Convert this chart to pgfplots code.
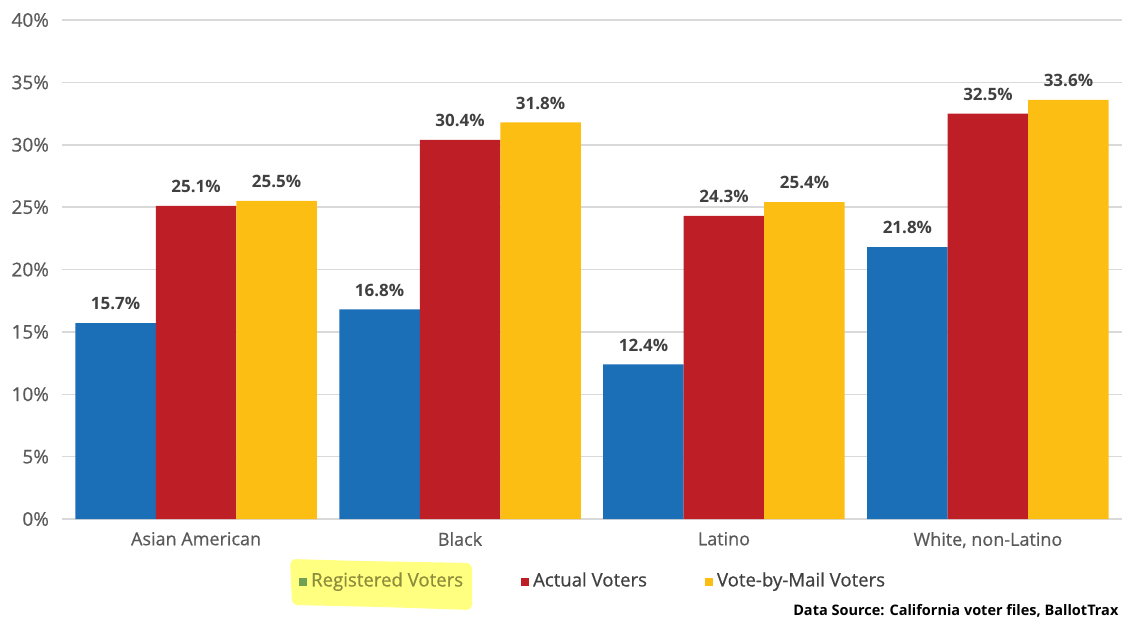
\documentclass[border=0pt]{standalone}
\usepackage{pgfplots}
\pgfplotsset{compat=1.18}
\usepackage{fontspec}
\setmainfont{Open Sans}
\newfontfamily\semibf[FakeBold=0.6]{Open Sans}
\definecolor{regblue}{RGB}{27,111,183}
\definecolor{actred}{RGB}{190,30,37}
\definecolor{mailyel}{RGB}{253,190,20}
\definecolor{gridgray}{RGB}{217,217,217}
\definecolor{ticktext}{RGB}{89,89,89}
\definecolor{labeltext}{RGB}{64,64,64}
\definecolor{hilite}{RGB}{255,255,128}
\definecolor{hlmark}{RGB}{112,160,84}
\definecolor{hltext}{RGB}{140,140,60}

% shares of each group, percent
\pgfplotstableread{
x reg act mail
0 15.7 25.1 25.5
1 16.8 30.4 31.8
2 12.4 24.3 25.4
3 21.8 32.5 33.6
}\turnout

\begin{document}
\begin{tikzpicture}
\useasboundingbox (-31pt,-52pt) rectangle (534pt,259.5pt);
% marker-pen highlight over the first legend entry
\fill[hilite, rounded corners=3pt] (114pt,-20pt) -- (150pt,-21pt) -- (205pt,-22pt)
  -- (205pt,-45.5pt) -- (160pt,-44pt) -- (115pt,-43pt) -- cycle;
\begin{axis}[
    scale only axis,
    width=530pt, height=249.5pt,
    clip=false,
    ybar=0pt,
    bar width=0.305,
    xmin=-0.508, xmax=3.508,
    ymin=0, ymax=40,
    ytick={0,5,...,40},
    yticklabel={\pgfmathprintnumber{\tick}\%},
    /pgf/number format/assume math mode=true,
    xtick={0,1,2,3},
    xticklabels={Asian American,Black,Latino,{White, non-Latino}},
    ymajorgrids,
    grid style={gridgray, line width=0.75pt},
    axis line style={draw=none},
    major tick length=0pt,
    tick label style={font=\semibf\fontsize{9}{11}\selectfont, text=ticktext},
    yticklabel style={font=\semibf\fontsize{9.5}{11}\selectfont, xshift=-3pt},
    xticklabel style={yshift=-3pt},
    nodes near coords={\pgfmathprintnumber[fixed,fixed zerofill,precision=1]{\pgfplotspointmeta}\%},
    nodes near coords style={font=\bfseries\fontsize{8.5}{10}\selectfont, text=labeltext, yshift=3pt},
    legend columns=3,
    legend style={at={(0.502,-0.124)}, anchor=center, draw=none, fill=none,
      font=\semibf\fontsize{9.3}{11}\selectfont, text=labeltext,
      /tikz/every even column/.append style={column sep=27pt}},
    legend image code/.code={\fill[#1] (0pt,-2.6pt) rectangle (4pt,1.4pt);},
  ]
  \addplot[fill=regblue, draw=none,
    legend image code/.code={\fill[hlmark] (0pt,-2.6pt) rectangle (4pt,1.4pt);}]
    table[x=x, y=reg] {\turnout};
  \addplot[fill=actred, draw=none] table[x=x, y=act] {\turnout};
  \addplot[fill=mailyel, draw=none] table[x=x, y=mail] {\turnout};
  \legend{\textcolor{hltext}{Registered Voters}, Actual Voters, Vote-by-Mail Voters}
  \node[anchor=east, font=\bfseries\fontsize{7.25}{9}\selectfont, text=black, inner sep=0pt]
    at (rel axis cs:0.997,-0.184) {Data Source: California voter files, BallotTrax};
\end{axis}
\end{tikzpicture}
\end{document}
